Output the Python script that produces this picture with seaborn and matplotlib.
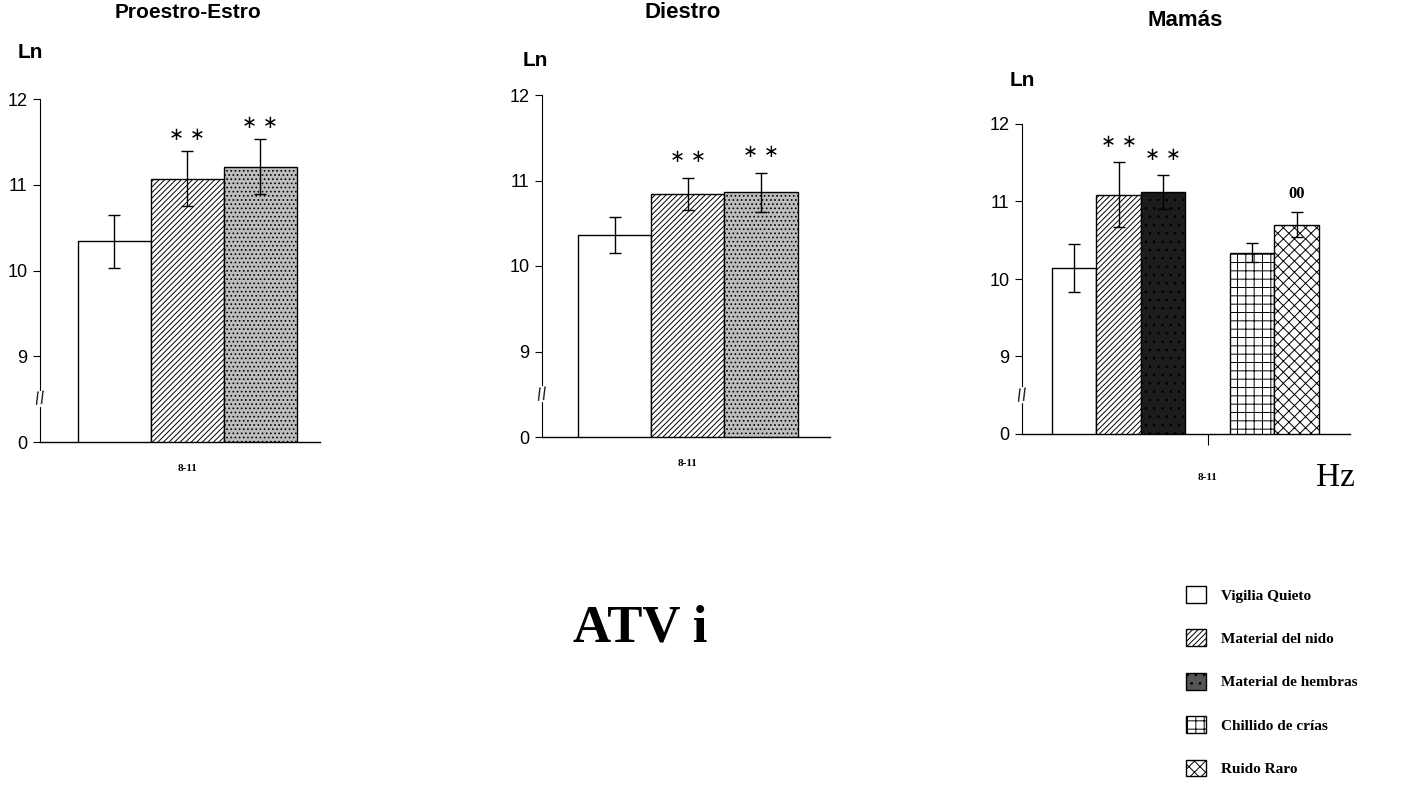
import numpy as np
import pandas as pd
import matplotlib.pyplot as plt
import seaborn as sns
from matplotlib.patches import Patch
import matplotlib.transforms as mtransforms

# --- Data (Ln power, 8-11 Hz band) ---
conds_ciclo = ["Vigilia Quieto", "Material del nido", "Material de hembras"]
proestro_vals = [10.34, 11.07, 11.21]
proestro_err = [0.31, 0.32, 0.32]
proestro_marks = ["", "**", "**"]

diestro_vals = [10.36, 10.84, 10.86]
diestro_err = [0.21, 0.19, 0.23]
diestro_marks = ["", "**", "**"]

conds_mamas = ["Vigilia Quieto", "Material del nido", "Material de hembras",
               "Chillido de crías", "Ruido Raro"]
mamas_vals = [10.14, 11.09, 11.12, 10.34, 10.70]
mamas_err = [0.31, 0.42, 0.22, 0.12, 0.16]
mamas_marks = ["", "**", "**", "", "00"]

ytick_vals = [8, 9, 10, 11, 12]
ytick_labels = ["0", "9", "10", "11", "12"]

# fill / hatch per condition
styles = {
    "Vigilia Quieto": dict(facecolor="white", hatch=None),
    "Material del nido": dict(facecolor="white", hatch="//////"),
    "Material de hembras": dict(facecolor="#bdbdbd", hatch="...."),
    "Chillido de crías": dict(facecolor="white", hatch="++"),
    "Ruido Raro": dict(facecolor="white", hatch="xxx"),
}
styles_dark = dict(styles)
styles_dark["Material de hembras"] = dict(facecolor="#1c1c1c", hatch="..")

sns.set_style("ticks")
plt.rcParams['font.family'] = ['Liberation Sans Narrow', 'Liberation Sans', 'DejaVu Sans']
plt.rcParams['hatch.linewidth'] = 0.7
for k in ["text.color", "axes.labelcolor", "xtick.color", "ytick.color", "axes.edgecolor"]:
    plt.rcParams[k] = "black"

NARROW = ['Liberation Sans Narrow', 'Liberation Sans', 'DejaVu Sans']
SERIF = ['Liberation Serif', 'DejaVu Serif']

fig = plt.figure(figsize=(14.15, 8.10), dpi=100)


def panel(rect, conds, vals, errs, marks, order, sty, xlim, title, title_xy,
          title_font, ln_xy, tick_mark=False, mark_off=0.05):
    ax = fig.add_axes(rect)
    df = pd.DataFrame({"cond": conds, "ln": vals})
    sns.barplot(data=df, x="cond", y="ln", order=order, errorbar=None,
                color="white", edgecolor="black", linewidth=1.0, width=1.0, ax=ax)
    centers = []
    for p, c in zip(ax.patches, conds):
        p.set_facecolor(sty[c]["facecolor"])
        if sty[c]["hatch"]:
            p.set_hatch(sty[c]["hatch"])
        centers.append(p.get_x() + p.get_width() / 2)
    ax.errorbar(centers, vals, yerr=errs, fmt="none", ecolor="black",
                elinewidth=1.0, capsize=4, capthick=1.0)
    for x, v, e, m in zip(centers, vals, errs, marks):
        if m == "**":
            ax.text(x, v + e + mark_off, "\u2217 \u2217", ha="center", va="bottom",
                    fontsize=13, family=['DejaVu Sans'])
        elif m:
            ax.text(x, v + e + mark_off, m, ha="center", va="bottom",
                    fontsize=12, family=SERIF, fontweight="bold")
    ax.set_ylim(8, 12)
    ax.set_yticks(ytick_vals)
    ax.set_yticklabels(ytick_labels, family=NARROW, fontsize=13)
    ax.set_xlim(*xlim)
    ax.set_xlabel("")
    ax.set_ylabel("")
    mid = 3 if len(order) > 3 else 1
    ax.set_xticks([mid])
    ax.set_xticklabels(["8-11"], family=SERIF, fontsize=8, fontweight="bold")
    ax.tick_params(axis="x", length=8 if tick_mark else 0,
                   pad=20 if tick_mark else 16, direction="out")
    ax.tick_params(axis="y", length=5, width=0.8, pad=4)
    sns.despine(ax=ax)
    ax.spines["left"].set_linewidth(0.8)
    ax.spines["bottom"].set_linewidth(1.0)
    # axis break mark
    tr = mtransforms.blended_transform_factory(ax.transAxes, ax.transData)
    ax.text(0, 8.5, "//", transform=tr, ha="center", va="center",
            fontsize=11, rotation=10, family=['DejaVu Sans'],
            bbox=dict(facecolor="white", edgecolor="none", pad=0.3))
    fig.text(title_xy[0] / 1415, 1 - title_xy[1] / 810, title, ha="center",
             va="center", **title_font)
    fig.text(ln_xy[0] / 1415, 1 - ln_xy[1] / 810, "Ln", ha="center",
             va="center", family=NARROW, fontsize=15, fontweight="bold")
    return ax


panel([40 / 1415, 1 - 442 / 810, 280 / 1415, 343 / 810],
      conds_ciclo, proestro_vals, proestro_err, proestro_marks,
      conds_ciclo, styles, (-1.02, 2.82), "Proestro-Estro", (188, 12),
      dict(family=['Liberation Sans', 'DejaVu Sans'], fontsize=15, fontweight="semibold"),
      (30, 52), mark_off=0.08)

panel([542 / 1415, 1 - 437 / 810, 288 / 1415, 342 / 810],
      conds_ciclo, diestro_vals, diestro_err, diestro_marks,
      conds_ciclo, styles, (-0.99, 2.94), "Diestro", (683, 12),
      dict(family=NARROW, fontsize=16, fontweight="bold"), (535, 60),
      mark_off=0.14)

order_mamas = conds_mamas[:3] + [""] + conds_mamas[3:]
ax3 = panel([1022 / 1415, 1 - 434 / 810, 328 / 1415, 310 / 810],
            conds_mamas, mamas_vals, mamas_err, mamas_marks,
            order_mamas, styles_dark, (-1.17, 6.2), "Mamás", (1185, 20),
            dict(family=NARROW, fontsize=16, fontweight="bold"), (1022, 80),
            tick_mark=True, mark_off=0.14)

fig.text(1335 / 1415, 1 - 478 / 810, "Hz", ha="center", va="center",
         family=SERIF, fontsize=24)
fig.text(640 / 1415, 1 - 628 / 810, "ATV i", ha="center", va="center",
         family=SERIF, fontsize=38, fontweight="bold")

handles = [Patch(facecolor=styles_dark[c]["facecolor"] if c != "Material de hembras" else "#555555",
                 hatch=styles_dark[c]["hatch"], edgecolor="black", linewidth=1.0)
           for c in conds_mamas]
fig.legend(handles, conds_mamas, loc="upper left",
           bbox_to_anchor=(1180 / 1415, 1 - 580 / 810), frameon=False,
           prop=dict(family=SERIF, size=11, weight="bold"),
           labelspacing=1.75, handlelength=1.3, handleheight=1.3,
           handletextpad=1.0, borderaxespad=0)

plt.savefig("out.png", dpi=100, facecolor="white")
